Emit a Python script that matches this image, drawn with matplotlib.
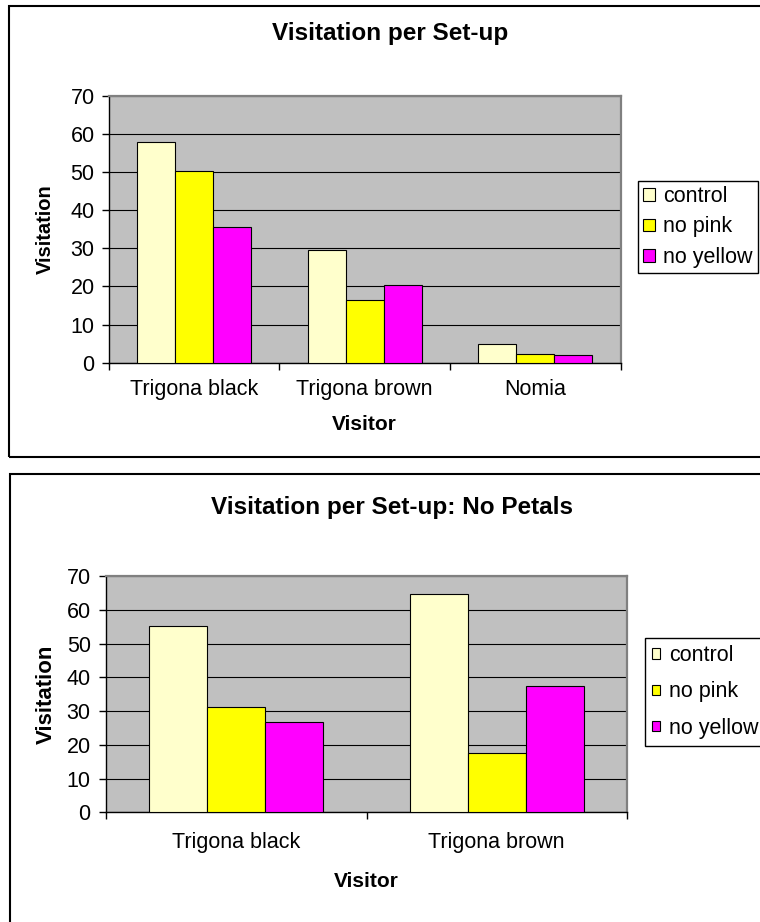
import matplotlib
matplotlib.use("Agg")
import matplotlib.pyplot as plt
from matplotlib.patches import Rectangle
import numpy as np

plt.rcParams['font.family'] = ['Liberation Sans', 'DejaVu Sans']

# ---- data ----
series_names = ["control", "no pink", "no yellow"]
series_colors = ["#FFFFCC", "#FFFF00", "#FF00FF"]

visitors_all = ["Trigona black", "Trigona brown", "Nomia"]
control_all = [58.0, 29.6, 4.9]
no_pink_all = [50.3, 16.5, 2.3]
no_yellow_all = [35.7, 20.3, 1.9]

visitors_np = ["Trigona black", "Trigona brown"]
control_np = [55.3, 64.7]
no_pink_np = [31.3, 17.7]
no_yellow_np = [26.8, 37.5]

y_ticks = [0, 10, 20, 30, 40, 50, 60, 70]

W, H = 760, 922
fig = plt.figure(figsize=(W / 100, H / 100), dpi=100)


def fx(x):
    return x / W


def fy(y):
    return 1 - y / H


def axes_rect(l, t, r, b):
    return [fx(l), fy(b), fx(r) - fx(l), fy(t) - fy(b)]


def draw_chart(rect, cats, values, title, title_xy, ylab_x, ylab_size, xlab_y,
               leg_xy, handle_w, handle_h, labelspacing, handletextpad,
               borderpad, ytick_pad, xtick_pad):
    ax = fig.add_axes(rect)
    ax.set_facecolor("#C0C0C0")
    n = len(cats)
    x = np.arange(n)
    bw = 1 / 4.5
    bars = []
    for i, (vals, name, col) in enumerate(zip(values, series_names, series_colors)):
        b = ax.bar(x + (i - 1) * bw, vals, width=bw, color=col,
                   edgecolor="black", linewidth=0.8, label=name, zorder=3)
        bars.append(b)
    ax.set_xlim(-0.5, n - 0.5)
    ax.set_ylim(0, 70)
    ax.set_yticks(y_ticks)
    ax.yaxis.grid(True, color="black", linewidth=0.8, zorder=1)
    ax.set_axisbelow(True)
    ax.set_xticks(x)
    ax.set_xticklabels(cats)
    ax.set_xticks(np.arange(n + 1) - 0.5, minor=True)
    ax.tick_params(axis="x", which="major", length=0, pad=xtick_pad,
                   labelsize=15.5)
    ax.tick_params(axis="x", which="minor", length=5, width=1.0,
                   direction="out", color="black")
    ax.tick_params(axis="y", length=5, width=1.0, direction="out",
                   pad=ytick_pad, labelsize=15.5)
    for s in ("left", "bottom"):
        ax.spines[s].set_color("black")
        ax.spines[s].set_linewidth(1.0)
    for s in ("top", "right"):
        ax.spines[s].set_color("#808080")
        ax.spines[s].set_linewidth(1.6)

    ax.set_xlabel("Visitor", fontsize=15, fontweight="bold")
    ax.set_ylabel("Visitation", fontsize=ylab_size, fontweight="bold")
    trans = ax.transAxes.inverted()
    lx, ly = trans.transform(fig.transFigure.transform((fx(0), fy(xlab_y))))
    ax.xaxis.set_label_coords(0.5, ly)
    ax.xaxis.label.set_verticalalignment("center")
    yx, _ = trans.transform(fig.transFigure.transform((fx(ylab_x), fy(0))))
    ax.yaxis.set_label_coords(yx, 0.5)
    ax.yaxis.label.set_verticalalignment("center")

    fig.text(fx(title_xy[0]), fy(title_xy[1]), title, fontsize=17.5,
             fontweight="bold", ha="center", va="center")

    leg = ax.legend(handles=bars, loc="upper left",
                    bbox_to_anchor=(fx(leg_xy[0]), fy(leg_xy[1])),
                    bbox_transform=fig.transFigure, borderaxespad=0,
                    fontsize=15.5, fancybox=False, shadow=False,
                    edgecolor="black", framealpha=1,
                    handlelength=handle_w, handleheight=handle_h,
                    labelspacing=labelspacing, handletextpad=handletextpad,
                    borderpad=borderpad)
    leg.get_frame().set_linewidth(1.0)
    return ax


# outer chart frames
fig.patches.append(Rectangle((fx(8.5), fy(456.7)), fx(780) - fx(8.5),
                             fy(6) - fy(456.7), transform=fig.transFigure,
                             fill=False, edgecolor="black", linewidth=1.5))
fig.patches.append(Rectangle((fx(9.5), fy(940)), fx(780) - fx(9.5),
                             fy(474.3) - fy(940), transform=fig.transFigure,
                             fill=False, edgecolor="black", linewidth=1.5))

draw_chart(axes_rect(108.5, 96, 620.7, 362.7), visitors_all,
           [control_all, no_pink_all, no_yellow_all],
           "Visitation per Set-up", (389.7, 33.3), 45, 14.5, 424,
           (638.3, 181), 0.56, 0.52, 0.44, 0.36, 0.23, 5.0, 11.5)

draw_chart(axes_rect(106, 576, 627, 812.3), visitors_np,
           [control_np, no_pink_np, no_yellow_np],
           "Visitation per Set-up: No Petals", (391.6, 507.7), 46, 16, 881.7,
           (645, 638.3), 0.37, 0.37, 0.7, 0.43, 0.33, 6.0, 14)

fig.savefig("out.png", dpi=100)
